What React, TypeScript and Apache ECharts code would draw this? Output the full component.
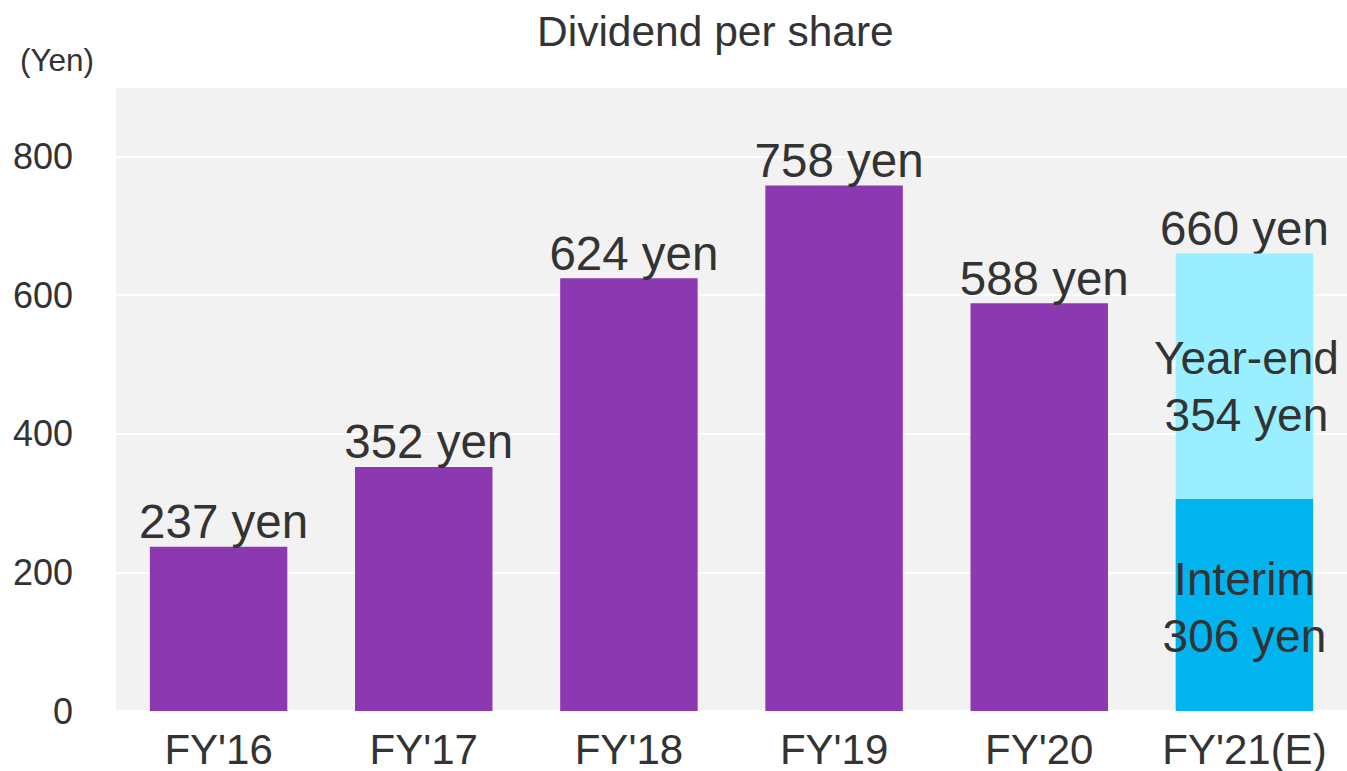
import React, { useEffect, useRef } from "react";
import * as echarts from "echarts";

const categories = ["FY'16", "FY'17", "FY'18", "FY'19", "FY'20", "FY'21(E)"];
const actualDividend = [237, 352, 624, 758, 588, null];
const interimDividend = [null, null, null, null, null, 306];
const yearEndDividend = [null, null, null, null, null, 354];
const yTicks = { min: 0, max: 900, interval: 200 };

const FONT = "'Liberation Sans', Arial, sans-serif";
const TEXT = "#333333";

export default function App() {
  const ref = useRef<HTMLDivElement>(null);
  useEffect(() => {
    if (!ref.current) return;
    const chart = echarts.init(ref.current, undefined, { renderer: "svg" });
    const totals = categories.map((_, i) =>
      interimDividend[i] != null && yearEndDividend[i] != null
        ? (interimDividend[i] as number) + (yearEndDividend[i] as number)
        : null
    );
    chart.setOption({
      animation: false,
      textStyle: { fontFamily: FONT },
      title: {
        text: "Dividend per share",
        left: 532,
        top: 5,
        textStyle: { fontFamily: FONT, fontSize: 42.5, fontWeight: "normal", color: TEXT },
      },
      graphic: [
        {
          type: "text",
          x: 57,
          y: 60,
          style: {
            text: "(Yen)",
            fontFamily: FONT,
            fontSize: 31.5,
            fill: TEXT,
            textAlign: "center",
            textVerticalAlign: "middle",
          },
        },
      ],
      grid: {
        left: 116,
        right: 0,
        top: 87,
        bottom: 60,
        show: true,
        backgroundColor: "#f2f2f2",
        borderWidth: 0,
        containLabel: false,
      },
      xAxis: {
        type: "category",
        data: categories,
        axisLine: { show: false },
        axisTick: { show: false },
        axisLabel: {
          fontFamily: FONT,
          fontSize: 42,
          lineHeight: 42,
          color: TEXT,
          margin: 17,
          interval: 0,
        },
      },
      yAxis: {
        type: "value",
        min: yTicks.min,
        max: yTicks.max,
        interval: yTicks.interval,
        axisLine: { show: false },
        axisTick: { show: false },
        splitLine: { lineStyle: { color: "#ffffff", width: 2 } },
        axisLabel: {
          fontFamily: FONT,
          fontSize: 36,
          color: TEXT,
          margin: 43,
          showMaxLabel: false,
          formatter: (v: number) => (v === 900 ? "" : String(v)),
        },
      },
      series: [
        {
          type: "bar",
          name: "Dividend",
          stack: "a",
          data: actualDividend,
          barWidth: "67%",
          barGap: "-100%",
          itemStyle: { color: "#8b38b1" },
          label: {
            show: true,
            position: "top",
            distance: 1,
            offset: [5, 0],
            formatter: "{c} yen",
            fontFamily: FONT,
            fontSize: 47.5,
            color: TEXT,
          },
        },
        {
          type: "bar",
          name: "Interim",
          stack: "a",
          data: interimDividend,
          barWidth: "67%",
          barGap: "-100%",
          itemStyle: { color: "#02b4ee" },
          label: {
            show: true,
            position: "inside",
            offset: [0, 3],
            formatter: "Interim\n{c} yen",
            fontFamily: FONT,
            fontSize: 46,
            lineHeight: 57,
            color: TEXT,
          },
        },
        {
          type: "bar",
          name: "Year-end",
          stack: "a",
          data: yearEndDividend,
          barWidth: "67%",
          barGap: "-100%",
          itemStyle: { color: "#99efff" },
          label: {
            show: true,
            position: "inside",
            offset: [2, 10],
            formatter: "Year-end\n{c} yen",
            fontFamily: FONT,
            fontSize: 46,
            lineHeight: 57,
            color: TEXT,
          },
        },
        {
          type: "bar",
          name: "Total",
          data: totals,
          barWidth: "67%",
          barGap: "-100%",
          z: 1,
          itemStyle: { color: "rgba(0,0,0,0)" },
          label: {
            show: true,
            position: "top",
            distance: 1,
            offset: [0, 0],
            formatter: "{c} yen",
            fontFamily: FONT,
            fontSize: 47.5,
            color: TEXT,
          },
        },
      ],
    });
    return () => chart.dispose();
  }, []);
  return (
    <div
      ref={ref}
      style={{ position: "fixed", left: 0, top: 0, width: 1347, height: 771, background: "#ffffff" }}
    />
  );
}
